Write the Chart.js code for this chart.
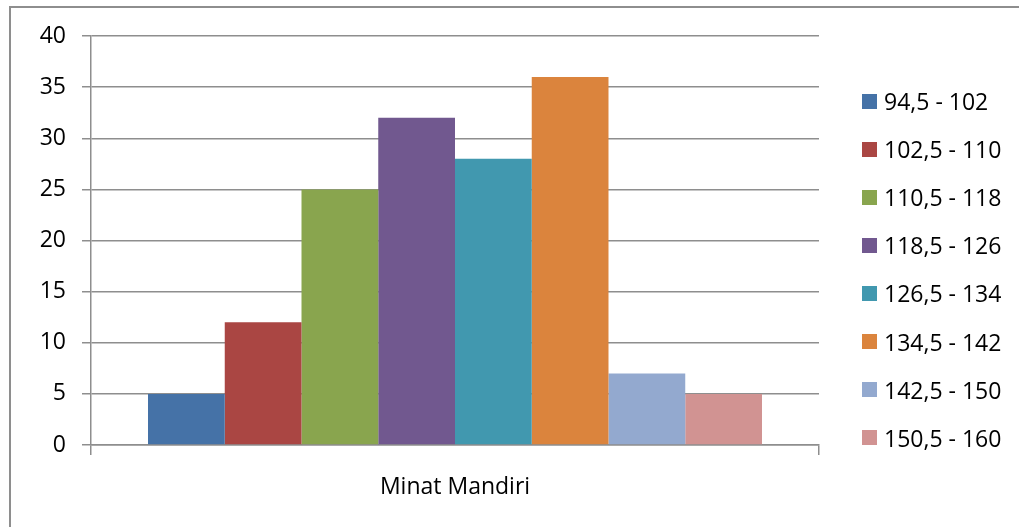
<!DOCTYPE html>
<html>
<head>
<meta charset="utf-8">
<script src="https://cdn.jsdelivr.net/npm/chart.js@4/dist/chart.umd.min.js"></script>
<style>
  html, body { margin: 0; padding: 0; width: 1019px; height: 527px; overflow: hidden; background: #fff; }
  #wrap { position: relative; width: 1019px; height: 527px; }
  #frame { position: absolute; left: 9px; top: 6px; width: 1100px; height: 600px; border: 2px solid #8e8e8e; box-sizing: border-box; }
  canvas { position: absolute; left: 0; top: 0; }
  #legend { position: absolute; left: 862px; top: 0; font-family: "Open Sans", sans-serif; font-size: 23px; color: #000; }
  .item { position: absolute; left: 0; height: 26px; line-height: 26px; display: flex; align-items: center; white-space: nowrap; }
  .swatch { width: 15px; height: 15px; margin-right: 7px; flex: none; }
</style>
</head>
<body>
<div id="wrap">
  <div id="frame"></div>
  <canvas id="c" width="1019" height="527"></canvas>
  <div id="legend"></div>
</div>
<script>
// Score classes and how many respondents fall in each
const categories = ["Minat Mandiri"];
const classLabels = ["94,5 - 102", "102,5 - 110", "110,5 - 118", "118,5 - 126", "126,5 - 134", "134,5 - 142", "142,5 - 150", "150,5 - 160"];
const frequencies = [5, 12, 25, 32, 28, 36, 7, 5];
const classColors = ["#4572A7", "#AA4643", "#89A54E", "#71588F", "#4198AF", "#DB843D", "#93A9CF", "#D19392"];
const yTicks = [0, 5, 10, 15, 20, 25, 30, 35, 40];

const FONT = "'Open Sans', sans-serif";
const GRID = "#8e8e8e";

const datasets = classLabels.map((label, i) => ({
  label: label,
  data: [frequencies[i]],
  backgroundColor: classColors[i],
  borderWidth: 0,
  categoryPercentage: 0.8434,
  barPercentage: 1.0
}));

new Chart(document.getElementById("c"), {
  type: "bar",
  data: { labels: categories, datasets: datasets },
  options: {
    responsive: false,
    animation: false,
    devicePixelRatio: 1,
    layout: { padding: { left: 0, right: 200, top: 36, bottom: 0 } },
    plugins: { legend: { display: false }, tooltip: { enabled: false } },
    scales: {
      x: {
        grid: { drawOnChartArea: false, drawTicks: true, tickLength: 10, color: GRID, lineWidth: 1.5 },
        border: { display: true, color: GRID, width: 1.5 },
        ticks: { color: "#000", font: { family: FONT, size: 23 }, padding: 19, maxRotation: 0 },
        afterFit: (scale) => { scale.height = 82; }
      },
      y: {
        min: 0,
        max: 40,
        afterBuildTicks: (scale) => { scale.ticks = yTicks.map(v => ({ value: v })); },
        grid: { color: GRID, lineWidth: 1.5, drawTicks: true, tickLength: 9 },
        border: { display: true, color: GRID, width: 1.5 },
        ticks: { color: "#000", font: { family: FONT, size: 23 }, padding: 16 },
        afterFit: (scale) => { scale.width = 91; }
      }
    }
  }
});

// Legend built from the same class labels and colours
const legend = document.getElementById("legend");
const firstCenter = 101, step = 48.1;
classLabels.forEach((label, i) => {
  const row = document.createElement("div");
  row.className = "item";
  row.style.top = (firstCenter + i * step - 13) + "px";
  const sw = document.createElement("span");
  sw.className = "swatch";
  sw.style.background = classColors[i];
  const tx = document.createElement("span");
  tx.textContent = label;
  row.appendChild(sw);
  row.appendChild(tx);
  legend.appendChild(row);
});
</script>
</body>
</html>
